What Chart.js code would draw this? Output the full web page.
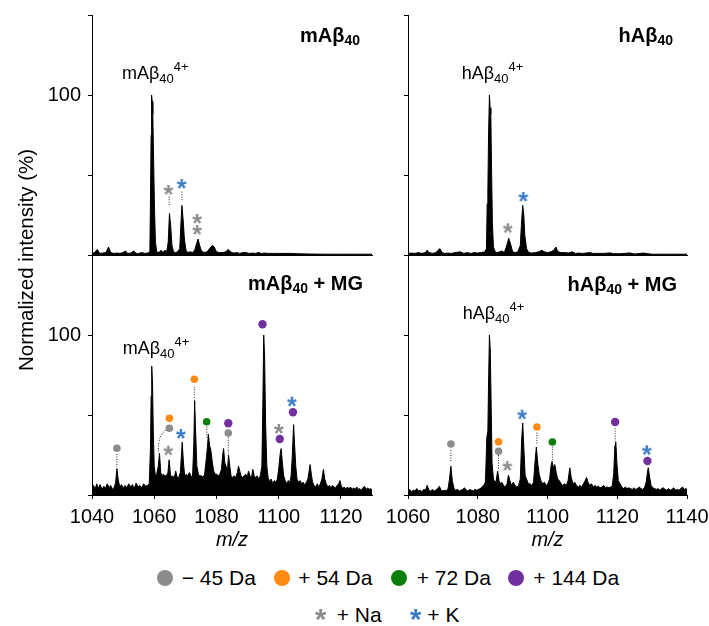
<!DOCTYPE html>
<html>
<head>
<meta charset="utf-8">
<script src="https://cdn.jsdelivr.net/npm/chart.js@4.4.1/dist/chart.umd.min.js"></script>
<style>
  body { margin: 0; background: #fff; }
  #wrap { position: relative; width: 709px; height: 626px; overflow: hidden;
          font-family: "Liberation Sans", Arial, Helvetica, sans-serif; color: #000; }
  canvas.panel { position: absolute; }
  .txt { position: absolute; white-space: nowrap; }
  .lbl { font-size: 18px; line-height: 18px; }
  .ttl { font-size: 20px; line-height: 20px; font-weight: bold; }
  .lbl .sb { position: relative; font-size: 13px; top: 4px; }
  .lbl .sp { position: relative; font-size: 13px; top: -8px; }
  .ttl .sb { position: relative; font-size: 14px; top: 3px; }
  .leg { font-size: 21px; line-height: 21px; }
  .ldot { position: absolute; width: 16px; height: 16px; border-radius: 50%; }
  #ytitle { position: absolute; left: -123.8px; top: 248px; width: 300px; height: 24px;
            line-height: 24px; font-size: 20.5px; text-align: center; transform: rotate(-90deg); }
</style>
</head>
<body>
<div id="wrap">
  <canvas id="tl" class="panel" width="380" height="260" style="left:0;top:0"></canvas>
  <canvas id="tr" class="panel" width="315" height="260" style="left:380px;top:0"></canvas>
  <canvas id="bl" class="panel" width="380" height="302" style="left:0;top:250px"></canvas>
  <canvas id="br" class="panel" width="329" height="302" style="left:380px;top:250px"></canvas>

  <div id="ytitle">Normalized intensity (%)</div>

  <div class="txt ttl" style="right:349px;top:25px">mAβ<span class="sb">40</span></div>
  <div class="txt ttl" style="right:36px;top:25px">hAβ<span class="sb">40</span></div>
  <div class="txt ttl" style="right:346px;top:273.4px">mAβ<span class="sb">40</span> + MG</div>
  <div class="txt ttl" style="right:32px;top:274px">hAβ<span class="sb">40</span> + MG</div>

  <div class="txt lbl" style="left:122px;top:64.4px">mAβ<span class="sb">40</span><span class="sp">4+</span></div>
  <div class="txt lbl" style="left:461.7px;top:63.8px">hAβ<span class="sb">40</span><span class="sp">4+</span></div>
  <div class="txt lbl" style="left:122.7px;top:339.4px">mAβ<span class="sb">40</span><span class="sp">4+</span></div>
  <div class="txt lbl" style="left:462.7px;top:303.8px">hAβ<span class="sb">40</span><span class="sp">4+</span></div>

  <span class="ldot" style="left:157.3px;top:570.3px;background:#8c8c8c"></span>
  <div class="txt leg" style="left:181.7px;top:567.2px">− 45 Da</div>
  <span class="ldot" style="left:274px;top:570.3px;background:#ff8a12"></span>
  <div class="txt leg" style="left:298.3px;top:567.2px">+ 54 Da</div>
  <span class="ldot" style="left:390.7px;top:570.3px;background:#0a800a"></span>
  <div class="txt leg" style="left:416.7px;top:567.2px">+ 72 Da</div>
  <span class="ldot" style="left:508.3px;top:570.3px;background:#7030a0"></span>
  <div class="txt leg" style="left:533.3px;top:567.2px">+ 144 Da</div>
  <div class="txt leg" style="left:336.7px;top:604.2px">+ Na</div>
  <div class="txt leg" style="left:427.3px;top:604.2px">+ K</div>
</div>
<script>
const FONT = '"Liberation Sans", Arial, Helvetica, sans-serif';
Chart.defaults.font.family = FONT;
Chart.defaults.color = '#000';

const GRAY = '#8c8c8c';
const ORANGE = '#ff8a12';
const GREEN = '#0a800a';
const PURPLE = '#7030a0';
const BLUE = '#3a7cc6';

// axis ranges
const xRangeLeft = [1040, 1130];
const xRangeRight = [1060, 1140];
const yMax = 150;
const yStep = 50;
const xStep = 20;

// spectra [m/z, intensity %]
const specTL = [
  [1040,1],[1040.8,1.5],[1041.7,3.5],[1042.5,1],[1043.5,1.2],[1044.5,1.5],[1045.3,5],[1046,1.5],
  [1047,1],[1048,1.2],[1049,1],[1050,1.5],[1050.7,2.5],[1051.5,1],[1052.5,1.2],[1053.4,2.5],
  [1054.2,1],[1055,1],[1056,1.5],[1057,1],[1058,1.2],[1058.6,2],[1058.8,36],[1059,75],
  [1059.15,100],[1059.35,96],[1059.55,88],[1059.8,60],[1060.1,28],[1060.4,8],[1060.8,2],
  [1061.5,1.5],[1062.2,3],[1062.8,1.5],[1063.4,3],[1064,2],[1064.5,8],[1064.9,26],[1065.3,18],
  [1065.7,6],[1066.2,2],[1066.8,1.5],[1067.5,2],[1068.2,4],[1068.6,20],[1068.9,31],[1069.3,22],
  [1069.7,10],[1070.2,3],[1070.8,1.5],[1071.5,2],[1072.3,1.5],[1073,3],[1073.6,7],[1074.1,10],
  [1074.6,6],[1075.2,2.5],[1076,1.5],[1077,2],[1077.8,4],[1078.6,6],[1079.3,5],[1080,2],
  [1081,1.5],[1082,1.5],[1083,2],[1083.8,3.5],[1084.5,2],[1085.5,1.2],[1086.5,1.5],[1087.5,1],
  [1088.5,1.5],[1089.5,1.5],[1090.5,1],[1091.5,1.2],[1092.5,1],[1093.5,1.5],[1094.5,1],
  [1095.5,1.2],[1096.5,1],[1098,1],[1100,1],[1102,1],[1104,1],[1106,0.8],[1110,0.6],
  [1115,0.5],[1120,0.5],[1125,0.5],[1130,0.5]
];
const specTR = [
  [1060,1],[1061,1.2],[1062,1],[1063,1.5],[1064,1],[1065,1.5],[1065.5,3],[1066,1.5],[1067,1],
  [1068,1.5],[1069.1,4],[1069.8,1.5],[1070.5,1],[1071.5,1.2],[1072.5,1],[1073.5,1.5],[1075,2],
  [1076,1],[1077,1.5],[1078,1],[1079,1.5],[1080,1.2],[1081,1.5],[1082,2],[1082.5,4],[1082.7,32],
  [1082.9,40],[1083.1,75],[1083.35,100],[1083.55,92],[1083.75,88],[1083.95,55],[1084.2,20],
  [1084.5,5],[1085,2],[1085.6,1.5],[1086.3,2],[1087,2.5],[1087.6,1.5],[1088.2,5],[1088.9,10.5],
  [1089.4,7],[1090,2],[1090.8,1.5],[1091.5,2],[1092.2,6],[1092.6,22],[1092.9,31],[1093.2,25],
  [1093.5,12],[1094,4],[1094.6,1.5],[1095.5,1.2],[1096.5,1.5],[1097.5,2],[1098.4,3],[1099,2],
  [1100,1.5],[1101,2],[1101.8,3],[1102.4,5],[1103,2],[1104,1.5],[1105,1.5],[1106,1.2],[1107,2],
  [1108,1],[1109,1.2],[1110,1],[1111,1.2],[1112.2,1.5],[1113,1],[1114,1],[1116,1],[1118,1.3],
  [1119,0.8],[1121,0.8],[1123.6,1.3],[1125,0.6],[1127.4,1.2],[1130,0.5],[1135,0.5],[1140,0.5]
];
const specBL = [
  [1040,4],[1040.5,6],[1041,3.5],[1041.5,7],[1042,4],[1042.6,6.5],[1043.2,3.5],[1043.8,5.5],
  [1044.3,4],[1044.9,7],[1045.5,4.5],[1046,6],[1046.6,3.5],[1047.2,5],[1047.6,8],[1048,16.5],
  [1048.4,10],[1048.9,5],[1049.5,6.5],[1050,4],[1050.6,6],[1051.2,4.5],[1051.8,7],[1052.4,5],
  [1053,6.5],[1053.6,4],[1054.2,7.5],[1054.8,5],[1055.4,6],[1056,4.5],[1056.6,7],[1057.2,5.5],
  [1057.8,6],[1058.4,7],[1058.8,30],[1059,62],[1059.2,80.5],[1059.45,70],[1059.7,40],[1060,18],
  [1060.4,12],[1060.8,13],[1061.3,18],[1061.7,26],[1062.1,14],[1062.5,12],[1062.9,13],[1063.4,12],
  [1063.9,12],[1064.4,14],[1064.8,22],[1065.2,13],[1065.6,11],[1066,12],[1066.4,10],[1066.9,15],
  [1067.4,11],[1067.9,11],[1068.4,14],[1069,33],[1069.4,20],[1069.8,12],[1070.3,13],[1070.8,12],
  [1071.3,14],[1071.8,12],[1072.3,11],[1072.7,30],[1073,59],[1073.3,40],[1073.7,18],[1074.2,13],
  [1074.7,12],[1075.2,12],[1075.7,11],[1076.2,13],[1076.7,22],[1077.1,30],[1077.4,38],[1077.8,31],
  [1078.2,28],[1078.7,20],[1079.1,15],[1079.6,13],[1080.1,13],[1080.6,12],[1081.1,13],[1081.6,16],
  [1082,25],[1082.3,29],[1082.7,20],[1083.1,18],[1083.5,14],[1083.9,25],[1084.3,18],[1084.7,12],
  [1085.2,11],[1085.7,12],[1086.2,11],[1086.7,14],[1087.1,18],[1087.5,15],[1087.9,12],[1088.4,11],
  [1088.9,12],[1089.4,13],[1089.9,11],[1090.3,15],[1090.8,12],[1091.3,11],[1091.7,16],[1092.1,12],
  [1092.6,11],[1093.1,12],[1093.6,10],[1094.1,12],[1094.6,18],[1094.9,55],[1095.2,100],[1095.5,85],
  [1095.8,45],[1096.2,18],[1096.6,11],[1097.1,8],[1097.6,10],[1098.1,7],[1098.6,9],[1099.1,8],
  [1099.6,10],[1100.1,18],[1100.5,26],[1100.8,29],[1101.2,20],[1101.6,12],[1102.1,9],[1102.6,7],
  [1103.1,9],[1103.6,8],[1104,12],[1104.4,25],[1104.8,44],[1105.1,32],[1105.5,18],[1105.9,10],
  [1106.4,8],[1106.9,9],[1107.4,7],[1107.9,8],[1108.4,6],[1108.9,8],[1109.4,10],[1109.8,15],
  [1110.1,19],[1110.5,13],[1110.9,8],[1111.4,6],[1111.9,5],[1112.4,7],[1112.9,5],[1113.4,7],
  [1113.9,10],[1114.4,16],[1114.8,10],[1115.3,7],[1115.8,5],[1116.3,6],[1116.8,4.5],[1117.3,6],
  [1117.8,5],[1118.3,4.5],[1118.8,6],[1119.3,7],[1119.7,9],[1120.1,6],[1120.6,4],[1121.1,5],
  [1121.6,3.5],[1122.1,5],[1122.6,4],[1123.1,5],[1123.6,3.5],[1124.1,4.5],[1124.6,3.5],[1125.1,5],
  [1125.6,3.5],[1126.1,4],[1126.6,3],[1127.1,4.5],[1127.6,5.5],[1128.1,3.5],[1128.6,4.5],
  [1129.1,3.5],[1129.6,4],[1130,3]
];
const specBR = [
  [1060,2.5],[1060.5,3.5],[1061,2],[1061.5,3],[1062,2.5],[1062.5,4],[1063,2.5],[1063.5,3],
  [1064,2],[1064.5,3.5],[1065,3],[1065.5,6],[1066,3],[1066.5,2.5],[1067,3.5],[1067.5,2.5],
  [1068,3],[1068.5,4],[1069,5.5],[1069.5,3],[1070,2.5],[1070.5,3],[1071,2.5],[1071.5,4],
  [1071.9,10],[1072.3,18],[1072.7,9],[1073.2,4],[1073.7,3],[1074.2,3.5],[1074.7,2.5],[1075.2,3],
  [1075.7,3.5],[1076.2,4.5],[1076.7,3],[1077.2,2.5],[1077.7,3.5],[1078.2,3],[1078.7,2.5],
  [1079.2,3.5],[1079.7,3],[1080.2,3.5],[1080.7,4],[1081.2,5],[1081.7,6],[1082.2,8],[1082.6,36],
  [1082.9,40],[1083.1,70],[1083.35,100],[1083.6,90],[1083.85,55],[1084.1,20],[1084.5,10],
  [1084.9,8],[1085.3,9],[1085.7,15],[1086.1,9],[1086.5,7],[1086.9,8],[1087.4,6],[1087.9,5],
  [1088.4,7],[1088.8,12.5],[1089.2,9],[1089.7,6],[1090.2,8],[1090.7,6],[1091.2,5],[1091.7,6],
  [1092.2,10],[1092.6,35],[1092.9,45],[1093.2,30],[1093.6,12],[1094,10],[1094.5,7],[1095,7],
  [1095.5,6],[1096,8],[1096.4,20],[1096.8,30],[1097.2,20],[1097.6,13],[1098.1,9],[1098.6,7],
  [1099.1,8],[1099.6,6],[1100.1,7],[1100.6,10],[1101,18],[1101.3,21],[1101.7,17],[1102.1,19],
  [1102.5,14],[1102.9,10],[1103.4,9],[1103.9,7],[1104.4,6],[1104.9,7],[1105.4,6],[1105.9,9],
  [1106.4,17],[1106.8,11],[1107.3,7],[1107.8,8],[1108.3,6],[1108.8,5],[1109.3,6],[1109.8,5],
  [1110.3,7],[1110.8,9],[1111.2,11],[1111.6,8],[1112.1,6],[1112.6,7],[1113.1,5],[1113.6,6],
  [1114.1,5],[1114.6,5.5],[1115.1,4.5],[1115.6,5],[1116.1,6],[1116.6,4.5],[1117.1,5],[1117.6,4.5],
  [1118.1,5],[1118.6,6],[1119,14],[1119.3,30],[1119.6,33],[1119.9,20],[1120.3,9],[1120.8,7],
  [1121.3,5],[1121.8,4],[1122.3,5],[1122.8,4],[1123.3,4.5],[1123.8,4],[1124.3,3.5],[1124.8,4.5],
  [1125.3,3.5],[1125.8,4],[1126.3,5],[1126.8,4],[1127.3,3.5],[1127.8,4.5],[1128.3,8],[1128.7,15],
  [1128.9,17],[1129.3,11],[1129.7,6],[1130.2,4.5],[1130.7,4],[1131.2,3.5],[1131.7,4],[1132.2,3],
  [1132.7,4],[1133.2,4.5],[1133.7,3.5],[1134.2,3],[1134.7,4],[1135.2,3],[1135.7,3.5],[1136.2,4.5],
  [1136.7,3],[1137.2,3.5],[1137.7,3],[1138.2,4],[1138.7,5],[1139.2,3.5],[1139.7,4],[1140,3.5]
];

// annotation markers [m/z, height %]
const naTL = [[1064.6,40.6],[1073.85,22.5],[1073.85,15.6]];
const kTL = [[1068.85,44.4]];
const dashTL = [[1064.8,36.4,30.2],[1068.9,39.6,33.3]];

const naTR = [[1088.65,16.7]];
const kTR = [[1093.1,36.3]];

const grayBL = [[1048.0,29.2],[1064.87,41.7],[1083.8,38.75]];
const orangeBL = [[1064.87,47.9],[1072.9,72.3]];
const greenBL = [[1076.85,45.8]];
const purpleBL = [[1083.8,44.8],[1094.8,106.7],[1100.35,35],[1104.6,51.7]];
const naBL = [[1064.55,27.7],[1100.1,41.25]];
const kBL = [[1068.6,38.1],[1104.3,58.3]];
const dashBL = [[1048.0,25.6,17.5],[1072.9,67.7,60.4],[1076.9,42.7,35.4],[1083.8,36,24]];
const curveBL = [[1063.65,40.6],[1062.4,37.8],[1061.5,33],[1061.35,26]];

const grayBR = [[1072.3,31.9],[1085.96,27.3]];
const orangeBR = [[1085.96,33.3],[1096.96,42.5]];
const greenBR = [[1101.4,33.1]];
const purpleBR = [[1119.4,45.6],[1128.65,21.25]];
const naBR = [[1088.5,18.1]];
const kBR = [[1092.75,50.2],[1128.5,27.9]];
const dashBR = [[1072.3,28.1,20.8],[1085.96,25,15.6],[1096.96,39,31.3],[1101.4,30.2,21.9],[1119.4,41.7,33.3]];

function makeStar(color, size) {
  const c = document.createElement('canvas');
  const w = Math.ceil(size * 0.8);
  c.width = w; c.height = w;
  const g = c.getContext('2d');
  g.font = 'bold ' + size + 'px ' + FONT;
  g.fillStyle = color;
  g.textAlign = 'left';
  g.textBaseline = 'alphabetic';
  const m = g.measureText('*');
  const x = w / 2 - (m.actualBoundingBoxRight - m.actualBoundingBoxLeft) / 2;
  const y = w / 2 - (m.actualBoundingBoxDescent - m.actualBoundingBoxAscent) / 2;
  g.fillText('*', x, y);
  return c;
}
const starGray = makeStar(GRAY, 25);
const starBlue = makeStar(BLUE, 25);

// legend asterisks
[[321, 615, GRAY], [416, 615, BLUE]].forEach(([cx, cy, col]) => {
  const s = makeStar(col, 29);
  s.style.position = 'absolute';
  s.style.left = (cx - s.width / 2) + 'px';
  s.style.top = (cy - s.height / 2) + 'px';
  document.getElementById('wrap').appendChild(s);
});

const toXY = (arr) => arr.map((p) => ({ x: p[0], y: p[1] }));
const dashes = (segs) => {
  const out = [];
  segs.forEach((s) => {
    out.push({ x: s[0], y: s[1] }, { x: s[0], y: s[2] }, { x: s[0], y: null });
  });
  return out;
};

const panel = (id, o) => {
  const datasets = [{
    data: toXY(o.spec),
    showLine: true,
    fill: 'origin',
    borderColor: '#000',
    backgroundColor: '#000',
    borderWidth: 1,
    pointRadius: 0,
    order: 10,
  }];
  if (o.dash) {
    datasets.push({
      data: dashes(o.dash), showLine: true, spanGaps: false,
      borderColor: '#222', borderWidth: 1, borderDash: [1, 1.5], pointRadius: 0, order: 5,
    });
  }
  if (o.curve) {
    datasets.push({
      data: toXY(o.curve), showLine: true, tension: 0.45,
      borderColor: '#222', borderWidth: 1, borderDash: [1, 1.5], pointRadius: 0, order: 5,
    });
  }
  o.marks.forEach((m) => {
    datasets.push({
      data: toXY(m.pts),
      pointStyle: m.style || 'circle',
      pointRadius: m.r || 4,
      backgroundColor: m.color,
      borderWidth: 0,
      order: 1,
    });
  });

  const x = {
    type: 'linear',
    min: o.xr[0],
    max: o.xr[1],
    afterFit: (s) => { s.height = o.bottom ? 57 : 0; s.paddingLeft = 0; s.paddingRight = 0; },
    border: { display: true, color: '#000', width: 1 },
  };
  if (o.bottom) {
    x.ticks = {
      stepSize: xStep, includeBounds: false, autoSkip: false, maxRotation: 0,
      padding: 6, font: { size: 20 }, color: '#000', callback: (v) => String(v),
    };
    x.grid = { display: true, drawOnChartArea: false, drawTicks: true, tickLength: 4, color: '#000' };
    x.title = { display: true, text: 'm/z', font: { size: 20, style: 'italic' }, color: '#000', padding: 0 };
  } else {
    x.ticks = { display: false };
    x.grid = { display: false };
  }

  new Chart(document.getElementById(id), {
    type: 'scatter',
    data: { datasets: datasets },
    options: {
      responsive: false,
      animation: false,
      devicePixelRatio: 1,
      layout: { padding: o.pad },
      plugins: { legend: { display: false }, tooltip: { enabled: false } },
      scales: {
        x: x,
        y: {
          min: 0,
          max: yMax,
          afterFit: (s) => { s.width = o.yw; s.paddingTop = 0; s.paddingBottom = 0; },
          ticks: {
            stepSize: yStep, padding: 7, font: { size: 20 }, color: '#000',
            callback: (v) => (o.yLabel && v === 100 ? '100' : ''),
          },
          grid: { display: true, drawOnChartArea: false, drawTicks: true, tickLength: 4, color: '#000' },
          border: { display: true, color: '#000', width: 1 },
        },
      },
    },
  });
};

panel('tl', {
  spec: specTL, xr: xRangeLeft, yw: 92, yLabel: true, bottom: false,
  pad: { left: 0, top: 15, right: 8, bottom: 5 },
  dash: dashTL,
  marks: [
    { pts: naTL, style: starGray, r: 4 },
    { pts: kTL, style: starBlue, r: 4 },
  ],
});
panel('tr', {
  spec: specTR, xr: xRangeRight, yw: 28, yLabel: false, bottom: false,
  pad: { left: 0, top: 15, right: 8, bottom: 5 },
  marks: [
    { pts: naTR, style: starGray, r: 4 },
    { pts: kTR, style: starBlue, r: 4 },
  ],
});
panel('bl', {
  spec: specBL, xr: xRangeLeft, yw: 92, yLabel: true, bottom: true,
  pad: { left: 0, top: 5, right: 8, bottom: 0 },
  dash: dashBL, curve: curveBL,
  marks: [
    { pts: grayBL, color: GRAY, r: 3.8 },
    { pts: orangeBL, color: ORANGE, r: 3.8 },
    { pts: greenBL, color: GREEN, r: 3.8 },
    { pts: purpleBL, color: PURPLE, r: 4.2 },
    { pts: naBL, style: starGray, r: 4 },
    { pts: kBL, style: starBlue, r: 4 },
  ],
});
panel('br', {
  spec: specBR, xr: xRangeRight, yw: 28, yLabel: false, bottom: true,
  pad: { left: 0, top: 5, right: 22, bottom: 0 },
  dash: dashBR,
  marks: [
    { pts: grayBR, color: GRAY, r: 3.8 },
    { pts: orangeBR, color: ORANGE, r: 3.8 },
    { pts: greenBR, color: GREEN, r: 3.8 },
    { pts: purpleBR, color: PURPLE, r: 4.2 },
    { pts: naBR, style: starGray, r: 4 },
    { pts: kBR, style: starBlue, r: 4 },
  ],
});
</script>
</body>
</html>
